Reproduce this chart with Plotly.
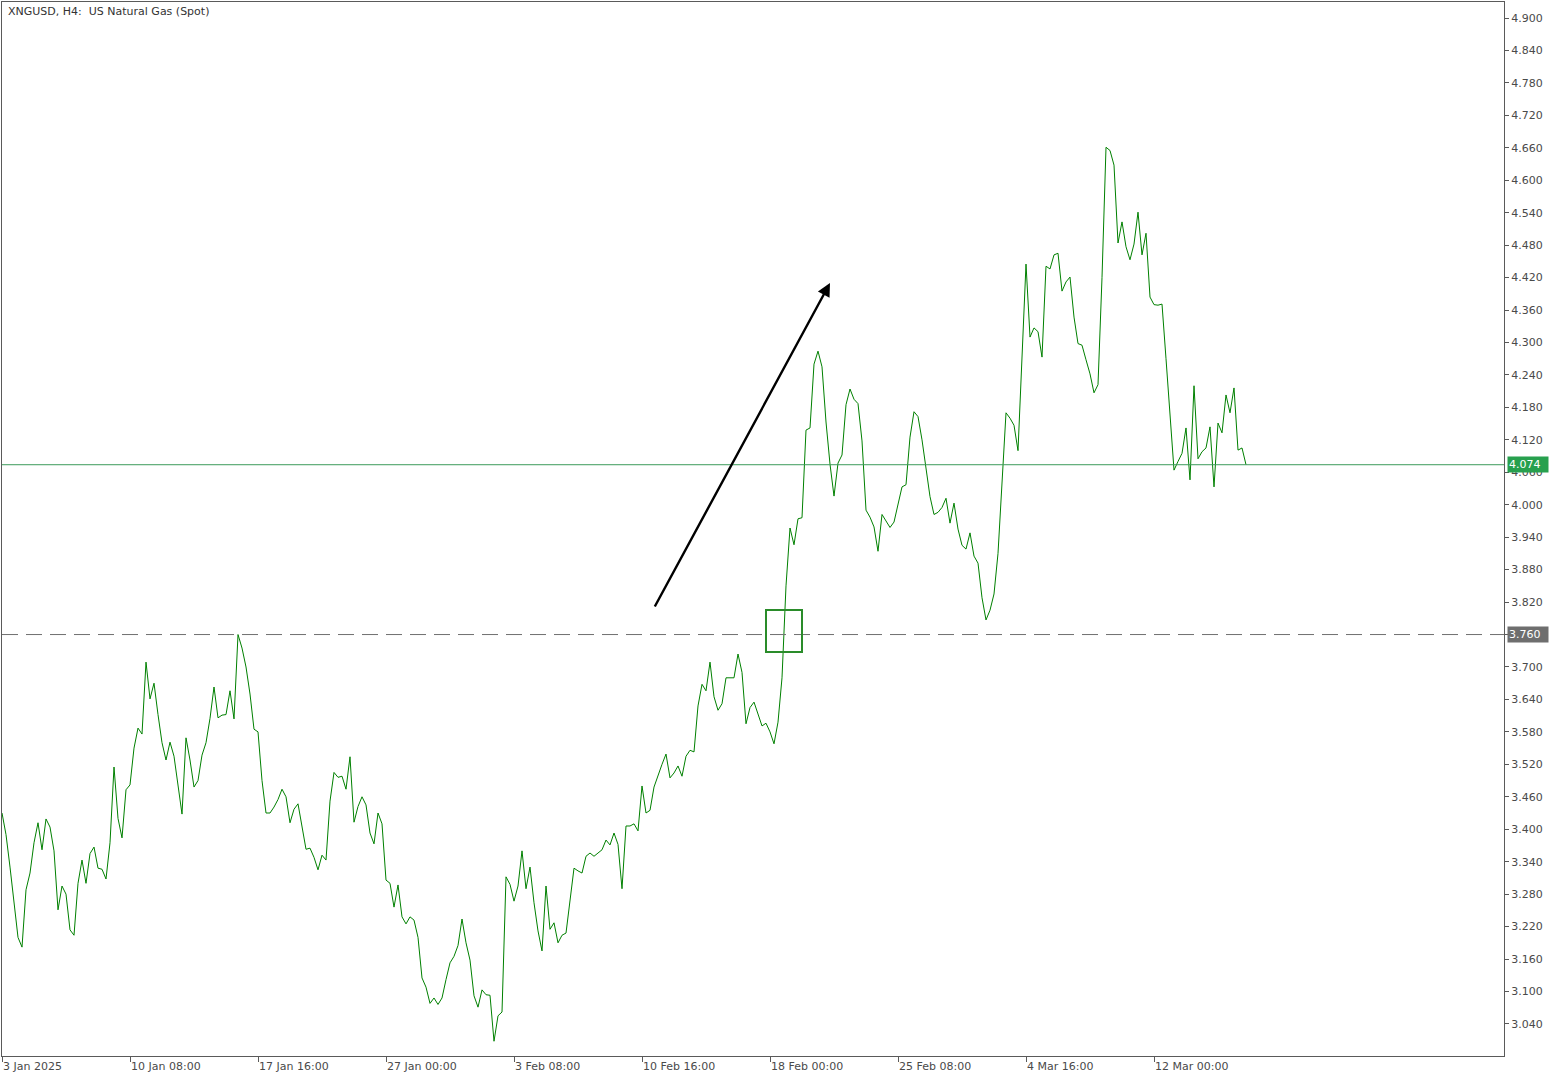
import plotly.graph_objects as go

# ---------------- data ----------------
title_text = "XNGUSD, H4:  US Natural Gas (Spot)"

# H4 close prices, one per bar (bar 0 = 3 Jan 2025 00:00)
price = [
    3.430, 3.390, 3.330, 3.268, 3.200, 3.182, 3.288, 3.319, 3.375, 3.412,
    3.362, 3.419, 3.404, 3.360, 3.251, 3.295, 3.280, 3.214, 3.204, 3.300,
    3.343, 3.300, 3.355, 3.367, 3.328, 3.326, 3.308, 3.375, 3.515, 3.420,
    3.384, 3.473, 3.482, 3.550, 3.587, 3.576, 3.709, 3.641, 3.670, 3.612,
    3.560, 3.528, 3.561, 3.535, 3.478, 3.428, 3.569, 3.528, 3.478, 3.490,
    3.537, 3.560, 3.605, 3.663, 3.606, 3.611, 3.612, 3.656, 3.604, 3.760,
    3.735, 3.700, 3.650, 3.585, 3.580, 3.490, 3.430, 3.430, 3.441, 3.455,
    3.474, 3.460, 3.412, 3.437, 3.447, 3.404, 3.363, 3.365, 3.348, 3.325,
    3.352, 3.343, 3.452, 3.505, 3.496, 3.498, 3.474, 3.534, 3.413, 3.442,
    3.460, 3.445, 3.393, 3.373, 3.430, 3.410, 3.306, 3.300, 3.256, 3.297,
    3.238, 3.225, 3.238, 3.232, 3.200, 3.125, 3.108, 3.078, 3.088, 3.076,
    3.088, 3.122, 3.153, 3.165, 3.185, 3.234, 3.190, 3.158, 3.092, 3.071,
    3.103, 3.094, 3.093, 3.008, 3.055, 3.062, 3.312, 3.298, 3.267, 3.295,
    3.360, 3.290, 3.330, 3.264, 3.212, 3.175, 3.295, 3.215, 3.227, 3.190,
    3.204, 3.208, 3.269, 3.328, 3.323, 3.319, 3.350, 3.356, 3.350, 3.356,
    3.362, 3.380, 3.371, 3.393, 3.372, 3.290, 3.406, 3.406, 3.410, 3.397,
    3.480, 3.430, 3.435, 3.478, 3.500, 3.520, 3.539, 3.495, 3.504, 3.517,
    3.498, 3.535, 3.546, 3.543, 3.628, 3.668, 3.656, 3.709, 3.645, 3.620,
    3.632, 3.680, 3.680, 3.680, 3.724, 3.690, 3.595, 3.625, 3.635, 3.612,
    3.591, 3.596, 3.580, 3.558, 3.598, 3.680, 3.850, 3.957, 3.926, 3.974,
    3.976, 4.138, 4.142, 4.260, 4.284, 4.255, 4.153, 4.075, 4.016, 4.077,
    4.092, 4.185, 4.214, 4.195, 4.187, 4.118, 3.990, 3.977, 3.959, 3.914,
    3.982, 3.970, 3.958, 3.968, 3.998, 4.033, 4.037, 4.125, 4.172, 4.163,
    4.120, 4.065, 4.015, 3.982, 3.986, 3.995, 4.012, 3.966, 4.003, 3.955,
    3.925, 3.918, 3.948, 3.905, 3.892, 3.828, 3.787, 3.805, 3.835, 3.910,
    4.040, 4.170, 4.160, 4.147, 4.100, 4.270, 4.445, 4.310, 4.327, 4.320,
    4.273, 4.441, 4.436, 4.462, 4.465, 4.395, 4.412, 4.421, 4.347, 4.298,
    4.295, 4.268, 4.242, 4.207, 4.222, 4.420, 4.661, 4.655, 4.628, 4.484,
    4.523, 4.477, 4.453, 4.482, 4.541, 4.462, 4.502, 4.384, 4.370, 4.369,
    4.371, 4.270, 4.175, 4.064, 4.080, 4.095, 4.142, 4.046, 4.220, 4.085,
    4.098, 4.105, 4.144, 4.033, 4.151, 4.133, 4.203, 4.170, 4.216, 4.101,
    4.105, 4.074,
]
bars = list(range(len(price)))

x_tick_bars = [0, 32, 64, 96, 128, 160, 192, 224, 256, 288]
x_tick_labels = ["3 Jan 2025", "10 Jan 08:00", "17 Jan 16:00", "27 Jan 00:00",
                 "3 Feb 08:00", "10 Feb 16:00", "18 Feb 00:00", "25 Feb 08:00",
                 "4 Mar 16:00", "12 Mar 00:00"]

y_tick_values = [3.040, 3.100, 3.160, 3.220, 3.280, 3.340, 3.400, 3.460, 3.520,
                 3.580, 3.640, 3.700, 3.760, 3.820, 3.880, 3.940, 4.000, 4.060,
                 4.120, 4.180, 4.240, 4.300, 4.360, 4.420, 4.480, 4.540, 4.600,
                 4.660, 4.720, 4.780, 4.840, 4.900]
y_tick_labels = [f"{v:.3f}" for v in y_tick_values]

last_price = 4.074
level_price = 3.760

# breakout box (bars, prices) and trend arrow (bars, prices)
box_bars = [191, 200]
box_prices = [3.7277, 3.8054]
arrow_start = (163, 3.809)
arrow_end = (207, 4.410)

# ---------------- figure ----------------
FONT = "DejaVu Sans"
AXIS_COLOR = "#5a5a5a"
TEXT_COLOR = "#4a4a4a"

fig = go.Figure()
fig.add_trace(go.Scatter(
    x=bars, y=price, mode="lines",
    line=dict(color="#008000", width=1),
    hoverinfo="skip",
))

# horizontal lines
fig.add_shape(type="line", xref="paper", x0=0, x1=1, yref="y",
              y0=last_price, y1=last_price,
              line=dict(color="#3c9a5a", width=1))
fig.add_shape(type="line", xref="paper", x0=0, x1=1, yref="y",
              y0=level_price, y1=level_price,
              line=dict(color="#707070", width=1, dash="16px,8px"))

# breakout box
fig.add_shape(type="rect", xref="x", yref="y",
              x0=box_bars[0], x1=box_bars[1], y0=box_prices[0], y1=box_prices[1],
              line=dict(color="#2a8c2a", width=2))

annotations = [
    dict(text=title_text, xref="paper", yref="paper", x=0, y=1,
         xanchor="left", yanchor="top", xshift=4, yshift=-1, showarrow=False,
         font=dict(family=FONT, size=11, color="#333333")),
    dict(x=arrow_end[0], y=arrow_end[1], ax=arrow_start[0], ay=arrow_start[1],
         xref="x", yref="y", axref="x", ayref="y", text="", showarrow=True,
         arrowhead=2, arrowsize=1.1, arrowwidth=2.4, arrowcolor="#000000"),
    dict(text=f"{last_price:.3f}", xref="paper", yref="y", x=1, y=last_price,
         xanchor="left", yanchor="middle", xshift=3, showarrow=False,
         bgcolor="#27a04e", borderpad=1, width=38, height=13, align="left",
         font=dict(family=FONT, size=11, color="#ffffff")),
    dict(text=f"{level_price:.3f}", xref="paper", yref="y", x=1, y=level_price,
         xanchor="left", yanchor="middle", xshift=3, showarrow=False,
         bgcolor="#6e6e6e", borderpad=1, width=38, height=13, align="left",
         font=dict(family=FONT, size=11, color="#ffffff")),
]

fig.update_layout(
    width=1560, height=1080,
    margin=dict(l=2, r=56, t=2, b=24),
    plot_bgcolor="white", paper_bgcolor="white",
    showlegend=False,
    annotations=annotations,
    font=dict(family=FONT, size=11, color=TEXT_COLOR),
    xaxis=dict(
        range=[0, 375.5], tickvals=x_tick_bars, ticktext=x_tick_labels,
        ticks="outside", ticklen=5, tickcolor=AXIS_COLOR, tickwidth=1,
        ticklabelposition="outside right",
        showline=True, linecolor=AXIS_COLOR, linewidth=1, mirror=True,
        showgrid=False, zeroline=False,
        tickfont=dict(family=FONT, size=11, color=TEXT_COLOR),
    ),
    yaxis=dict(
        side="right", range=[2.9807, 4.9296],
        tickvals=y_tick_values, ticktext=y_tick_labels,
        ticks="outside", ticklen=4, tickcolor=AXIS_COLOR, tickwidth=1,
        showline=True, linecolor=AXIS_COLOR, linewidth=1, mirror=True,
        showgrid=False, zeroline=False,
        tickfont=dict(family=FONT, size=11, color=TEXT_COLOR),
    ),
)

fig.write_html("out.html", config={"displayModeBar": False},
               post_script="document.body.style.margin='0';")
